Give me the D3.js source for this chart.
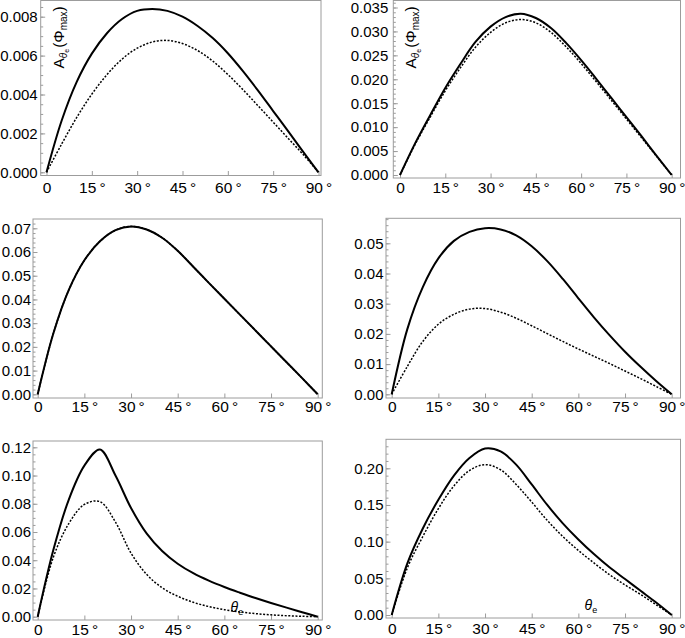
<!DOCTYPE html>
<html>
<head>
<meta charset="utf-8">
<script src="https://cdn.jsdelivr.net/npm/d3@7"></script>
<style>
  body { margin: 0; background: #fff; }
  svg { display: block; font-family: 'Liberation Sans', Arial, Helvetica, sans-serif; }
</style>
</head>
<body>
<svg id="chart" width="685" height="638"></svg>
<script>
// emission angle in degrees, shared by every panel
const angles = [0, 5, 10, 15, 20, 25, 30, 35, 40, 45, 50, 55, 60, 65, 70, 75, 80, 85, 90];
const xTicks = [0, 15, 30, 45, 60, 75, 90];

// values, one pair of curves per panel
const solidA = [0, 0.00265, 0.00465, 0.00610, 0.00715, 0.00788, 0.00830, 0.00840, 0.00830, 0.00800, 0.00752, 0.00690, 0.00612, 0.00520, 0.00420, 0.00315, 0.00210, 0.00104, 0];
const dottedA = [0, 0.00145, 0.00282, 0.00402, 0.00502, 0.00582, 0.00638, 0.00670, 0.00678, 0.00662, 0.00626, 0.00572, 0.00503, 0.00425, 0.00342, 0.00258, 0.00174, 0.00090, 0];

const solidB = [0, 0.0066, 0.0125, 0.0182, 0.0232, 0.0278, 0.0310, 0.0330, 0.0337, 0.0328, 0.0307, 0.0276, 0.0240, 0.0201, 0.0161, 0.0121, 0.0081, 0.0040, 0];
const dottedB = [0, 0.0064, 0.0121, 0.0176, 0.0224, 0.0267, 0.0298, 0.0318, 0.0325, 0.0318, 0.0298, 0.0268, 0.0233, 0.0195, 0.0156, 0.0117, 0.0078, 0.0039, 0];

const solidC = [0, 0.0255, 0.044, 0.0565, 0.0645, 0.0692, 0.0708, 0.0695, 0.066, 0.0605, 0.0538, 0.047, 0.0403, 0.0336, 0.0269, 0.0202, 0.0135, 0.0068, 0];
const dottedC = solidC.slice(); // both curves coincide in this panel

const solidD = [0, 0.0215, 0.0355, 0.0450, 0.0508, 0.0538, 0.0550, 0.0546, 0.0526, 0.0490, 0.0441, 0.0382, 0.0318, 0.0255, 0.0196, 0.0141, 0.0091, 0.0044, 0];
const dottedD = [0, 0.0092, 0.0175, 0.0232, 0.0265, 0.0282, 0.0284, 0.0272, 0.0252, 0.0227, 0.0201, 0.0175, 0.0150, 0.0126, 0.0102, 0.0077, 0.0052, 0.0026, 0];

const solidE = [0, 0.047, 0.083, 0.107, 0.1185, 0.100, 0.077, 0.059, 0.0465, 0.0375, 0.0308, 0.0255, 0.021, 0.017, 0.0132, 0.0097, 0.0064, 0.0032, 0];
const dottedE = [0, 0.042, 0.066, 0.0795, 0.0815, 0.067, 0.045, 0.030, 0.0205, 0.0145, 0.0102, 0.0072, 0.0050, 0.0034, 0.0022, 0.0013, 0.0007, 0.0003, 0];

const solidF = [0, 0.070, 0.118, 0.157, 0.190, 0.214, 0.227, 0.223, 0.205, 0.178, 0.150, 0.125, 0.103, 0.083, 0.065, 0.049, 0.033, 0.017, 0];
const dottedF = [0, 0.064, 0.107, 0.145, 0.176, 0.197, 0.205, 0.198, 0.178, 0.154, 0.129, 0.107, 0.088, 0.071, 0.055, 0.041, 0.028, 0.014, 0];

const yTicksA = [0, 0.002, 0.004, 0.006, 0.008];
const yTicksB = [0, 0.005, 0.010, 0.015, 0.020, 0.025, 0.030, 0.035];
const yTicksC = [0, 0.01, 0.02, 0.03, 0.04, 0.05, 0.06, 0.07];
const yTicksD = [0, 0.01, 0.02, 0.03, 0.04, 0.05];
const yTicksE = [0, 0.02, 0.04, 0.06, 0.08, 0.10, 0.12];
const yTicksF = [0, 0.05, 0.10, 0.15, 0.20];

// layout: frame box plus pixel calibration of x (0..90) and y (0..ref)
const panels = [
  { frame: [40.7, 0.5, 321, 175.5], xr: [46.5, 318.5], yr: [172.3, 16.7], yRef: 0.008, pad: 3, xpad: 6,
    ticks: yTicksA, minor: 0.0005, fmt: '.3f', solid: solidA, dotted: dottedA, ylabel: true },
  { frame: [393.3, 0.5, 680.5, 178], xr: [400, 671.7], yr: [175, 7.5], yRef: 0.035, pad: 5, xpad: 4,
    ticks: yTicksB, minor: 0.001, fmt: '.3f', solid: solidB, dotted: dottedB, ylabel: true },
  { frame: [33, 219, 322.3, 398], xr: [37.7, 317.7], yr: [394.3, 228.3], yRef: 0.07, pad: 2, xpad: 2.5,
    ticks: yTicksC, minor: 0.002, fmt: '.2f', solid: solidC, dotted: dottedC },
  { frame: [386, 218.3, 680.5, 398], xr: [391.7, 671.7], yr: [394.3, 243.3], yRef: 0.05, pad: 2.5, xpad: 2.5,
    ticks: yTicksD, minor: 0.002, fmt: '.2f', solid: solidD, dotted: dottedD },
  { frame: [33, 441, 322.3, 620], xr: [37.7, 317.7], yr: [616.7, 447.3], yRef: 0.12, pad: 2, xpad: 3.5,
    ticks: yTicksE, minor: 0.005, fmt: '.2f', solid: solidE, dotted: dottedE, theta: true },
  { frame: [386, 439.3, 680.5, 618], xr: [391.7, 671.7], yr: [615, 468.3], yRef: 0.20, pad: 2.5, xpad: 5,
    ticks: yTicksF, minor: 0.01, fmt: '.2f', solid: solidF, dotted: dottedF, theta: true },
];

const svg = d3.select('#chart');
const frameColor = '#9c9c9c';

function drawPanel(p)
{
  const [fl, ft, fr, fb] = p.frame;
  const x = d3.scaleLinear().domain([0, 90]).range(p.xr);
  const y = d3.scaleLinear().domain([0, p.yRef]).range(p.yr);
  const g = svg.append('g');

  // minor ticks cover the whole frame height
  const lo = y.invert(fb);
  const hi = y.invert(ft);
  const minorTicks = d3.range(Math.ceil(lo / p.minor) * p.minor, hi, p.minor);

  g.append('g')
    .attr('transform', `translate(${fl},0)`)
    .call(d3.axisLeft(y).tickValues(minorTicks).tickSize(-2.5).tickFormat(''))
    .call(a => a.select('.domain').remove())
    .selectAll('line').attr('stroke', frameColor);

  const yAxis = g.append('g')
    .attr('transform', `translate(${fl},0)`)
    .call(d3.axisLeft(y).tickValues(p.ticks).tickSize(-4.5).tickPadding(p.pad).tickFormat(d3.format(p.fmt)));
  yAxis.select('.domain').remove();
  yAxis.selectAll('line').attr('stroke', frameColor);
  yAxis.selectAll('text').attr('font-size', 15).attr('font-family', null).attr('fill', '#000');

  const xAxis = g.append('g')
    .attr('transform', `translate(0,${fb})`)
    .call(d3.axisBottom(x).tickValues(xTicks).tickSize(-4.5).tickPadding(p.xpad)
      .tickFormat(d => (d === 0 ? '0' : `${d}\u2009°`)));
  xAxis.select('.domain').remove();
  xAxis.selectAll('line').attr('stroke', frameColor);
  xAxis.selectAll('text').attr('font-size', 15.5).attr('font-family', null).attr('fill', '#000');

  g.append('rect')
    .attr('x', fl).attr('y', ft)
    .attr('width', fr - fl).attr('height', fb - ft)
    .attr('fill', 'none')
    .attr('stroke', frameColor)
    .attr('stroke-width', 1);

  const line = d3.line()
    .x((d, i) => x(angles[i]))
    .y(d => y(d))
    .curve(d3.curveCatmullRom.alpha(0.5));

  g.append('path')
    .datum(p.dotted)
    .attr('fill', 'none')
    .attr('stroke', '#000')
    .attr('stroke-width', 1.5)
    .attr('stroke-dasharray', '2,1.6')
    .attr('d', line);

  g.append('path')
    .datum(p.solid)
    .attr('fill', 'none')
    .attr('stroke', '#000')
    .attr('stroke-width', 2)
    .attr('d', line);

  if (p.ylabel)
  {
    const t = g.append('text')
      .attr('transform', `translate(${fl + 23},${ft + 68}) rotate(-90)`)
      .attr('font-size', 15.5);
    t.append('tspan').text('A');
    t.append('tspan').attr('font-size', 10).attr('font-style', 'italic').attr('dy', 3).text('θ');
    t.append('tspan').attr('font-size', 7).attr('dy', 2).text('e');
    t.append('tspan').attr('dy', -5).attr('dx', 1).text('(Φ');
    t.append('tspan').attr('font-size', 10).attr('dy', 3).text('max');
    t.append('tspan').attr('dy', -3).text(')');
  }

  if (p.theta)
  {
    const t = g.append('text')
      .attr('x', x(62))
      .attr('y', y(0) - 5)
      .attr('font-size', 14);
    t.append('tspan').attr('font-style', 'italic').text('θ');
    t.append('tspan').attr('font-size', 9).attr('dy', 3).text('e');
  }
}

panels.forEach(drawPanel);
</script>
</body>
</html>
